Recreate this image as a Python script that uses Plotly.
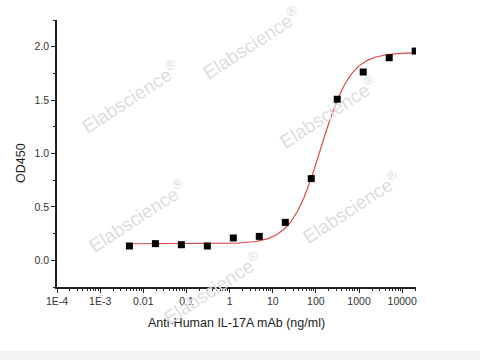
import numpy as np
import plotly.graph_objects as go

# Data (4-fold dilution series, ng/ml) and OD450 readings
conc = [0.00477, 0.0191, 0.0763, 0.305, 1.22, 4.88, 19.53, 78.13, 312.5, 1250, 5000, 20000]
od450 = [0.134, 0.156, 0.146, 0.134, 0.209, 0.224, 0.355, 0.765, 1.508, 1.763, 1.897, 1.959]

# 4-parameter logistic fit parameters
fit_bottom = 0.155
fit_top = 1.945
fit_log_ec50 = 2.115
fit_hill = 1.27

x_tickvals = [1e-4, 1e-3, 1e-2, 1e-1, 1, 10, 100, 1000, 10000]
x_ticktext = ["1E-4", "1E-3", "0.01", "0.1", "1", "10", "100", "1000", "10000"]
y_tickvals = [0.0, 0.5, 1.0, 1.5, 2.0]
y_ticktext = ["0.0", "0.5", "1.0", "1.5", "2.0"]

# watermark positions (paper coords)
wm_x = [0.540, 0.203, 0.755, 0.223, 0.819, 0.432]
wm_y = [0.915, 0.712, 0.655, 0.266, 0.300, -0.004]

lx = np.linspace(np.log10(conc[0]), np.log10(conc[-1]), 300)
fit_y = fit_bottom + (fit_top - fit_bottom) / (1 + 10 ** (fit_hill * (fit_log_ec50 - lx)))

minor_x = [m * 10.0 ** e for e in range(-4, 5) for m in range(2, 10) if m * 10.0 ** e <= 20000]

FONT = "Liberation Sans, Arial, sans-serif"

fig = go.Figure()
fig.add_trace(go.Scatter(x=10 ** lx, y=fit_y, mode="lines",
                         line=dict(color="#e04848", width=1.2), hoverinfo="skip"))
fig.add_trace(go.Scatter(x=conc, y=od450, mode="markers",
                         marker=dict(symbol="square", size=7, color="black")))

annotations = []
for xx, yy in zip(wm_x, wm_y):
    annotations.append(dict(x=xx, y=yy, xref="paper", yref="paper",
                            xanchor="center", yanchor="middle",
                            text="Elabscience<sup>®</sup>", showarrow=False,
                            textangle=-33, font=dict(family=FONT, size=19, color="#dddddd")))
annotations.append(dict(x=-0.102, y=0.915, xref="paper", yref="y", text="OD450",
                        xanchor="center", yanchor="middle",
                        showarrow=False, textangle=-90,
                        font=dict(family=FONT, size=12.5, color="#222222")))

fig.update_layout(
    width=480, height=360,
    margin=dict(l=57, r=64, t=20, b=73),
    paper_bgcolor="white", plot_bgcolor="white",
    showlegend=False,
    font=dict(family=FONT, color="#333333"),
    annotations=annotations,
    shapes=[dict(type="rect", xref="paper", yref="paper", x0=-0.2, x1=1.2,
                 y0=-0.24, y1=-0.30, fillcolor="#f3f3f3", line=dict(width=0), layer="below")],
    xaxis=dict(type="log", range=[-4, 4.32], tickvals=x_tickvals, ticktext=x_ticktext,
               showgrid=False, zeroline=False, showline=True, linecolor="#222222", linewidth=1.6,
               ticks="outside", ticklen=4, tickwidth=1.2, tickcolor="#222222",
               tickfont=dict(size=10.5, color="#333333"),
               minor=dict(ticks="outside", ticklen=2.5, tickwidth=1, tickcolor="#222222",
                          tickmode="array", tickvals=minor_x),
               title=dict(text="Anti-Human IL-17A mAb (ng/ml)", standoff=12,
                          font=dict(size=12.5, color="#222222"))),
    yaxis=dict(range=[-0.25, 2.25], tickvals=y_tickvals, ticktext=y_ticktext,
               showgrid=False, zeroline=False, showline=True, linecolor="#222222", linewidth=1.6,
               ticks="outside", ticklen=4, tickwidth=1.2, tickcolor="#222222",
               tickfont=dict(size=10.5, color="#333333"),
               minor=dict(ticks="outside", ticklen=2.5, tickwidth=1, tickcolor="#222222", dtick=0.25)),
)

fig.write_html("out.html")
